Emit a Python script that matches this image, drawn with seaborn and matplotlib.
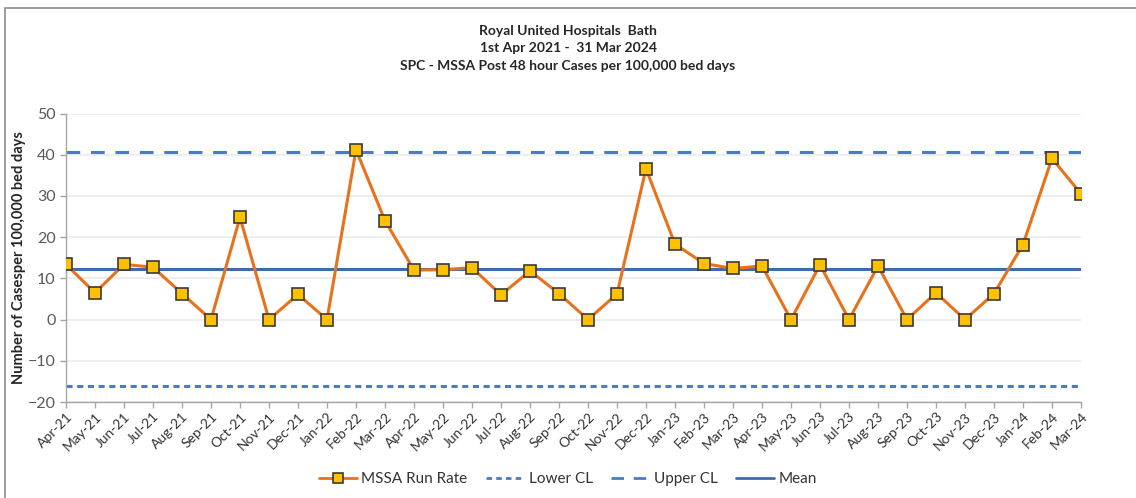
import matplotlib
matplotlib.use("Agg")
import matplotlib.pyplot as plt
import numpy as np
import pandas as pd
import seaborn as sns
from matplotlib.lines import Line2D
from matplotlib.patches import Rectangle

months = [
    "Apr-21", "May-21", "Jun-21", "Jul-21", "Aug-21", "Sep-21", "Oct-21", "Nov-21",
    "Dec-21", "Jan-22", "Feb-22", "Mar-22", "Apr-22", "May-22", "Jun-22", "Jul-22",
    "Aug-22", "Sep-22", "Oct-22", "Nov-22", "Dec-22", "Jan-23", "Feb-23", "Mar-23",
    "Apr-23", "May-23", "Jun-23", "Jul-23", "Aug-23", "Sep-23", "Oct-23", "Nov-23",
    "Dec-23", "Jan-24", "Feb-24", "Mar-24",
]
run_rate = [
    13.4, 6.5, 13.4, 12.7, 6.3, 0.0, 24.8, 0.0, 6.1, 0.0, 41.2, 24.0,
    12.0, 12.1, 12.6, 6.0, 11.8, 6.3, 0.0, 6.2, 36.6, 18.3, 13.6, 12.4,
    13.0, 0.0, 13.3, 0.0, 13.0, 0.0, 6.5, 0.0, 6.3, 18.2, 39.1, 30.5,
]
mean_value = 12.2
upper_cl = 40.6
lower_cl = -16.2

df = pd.DataFrame({"month": months, "rate": run_rate})
df["pos"] = np.arange(len(df))

sns.set_theme(style="white")
plt.rcParams["font.family"] = ["Lato", "DejaVu Sans"]

fig = plt.figure(figsize=(11.36, 4.98), dpi=100)
ax = fig.add_axes([66 / 1136, 1 - 402 / 498, (1081 - 66) / 1136, (402 - 113.5) / 498])

ax.axhline(upper_cl, color="#4A7CC4", lw=2.2, ls=(0, (4.5, 3.5)), zorder=2)
ax.axhline(lower_cl, color="#4A7CC4", lw=2.2, ls=(0, (2, 1.5)), zorder=2)
ax.axhline(mean_value, color="#3E6BAE", lw=2.2, zorder=2)
sns.lineplot(data=df, x="pos", y="rate", ax=ax, color="#E8721C", lw=2.2,
             marker="s", markersize=8, markerfacecolor="#FFC000",
             markeredgecolor="#3A3A3A", markeredgewidth=1.2, zorder=3)

ax.set_xlim(0, len(months) - 1)
ax.set_ylim(-20, 50)
ax.set_yticks(range(-20, 51, 10))
ax.yaxis.grid(True, color="#EBEBEB", lw=1.2)
ax.set_axisbelow(True)
ax.set_xticks(df["pos"])
ax.set_xticklabels(months, rotation=45, ha="right", rotation_mode="anchor", fontsize=10, color="#333333")
ax.tick_params(axis="x", length=4, color="#A6A6A6", width=1, bottom=True, pad=2)
ax.tick_params(axis="y", length=4, color="#A6A6A6", width=1, left=True, labelsize=11.5, labelcolor="#595959")
for side in ["top", "right"]:
    ax.spines[side].set_visible(False)
for side in ["left", "bottom"]:
    ax.spines[side].set_color("#A6A6A6")
    ax.spines[side].set_linewidth(1)
ax.set_xlabel("")
ax.set_ylabel("Number of Casesper 100,000 bed days", fontsize=10.5, fontweight="bold", color="#262626", labelpad=1)

fig.text(0.5, 1 - 31 / 498, "Royal United Hospitals  Bath", ha="center", va="center", fontsize=10, fontweight="bold")
fig.text(0.5, 1 - 48 / 498, "1st Apr 2021 -  31 Mar 2024", ha="center", va="center", fontsize=10, fontweight="bold")
fig.text(0.5, 1 - 66 / 498, "SPC - MSSA Post 48 hour Cases per 100,000 bed days", ha="center", va="center", fontsize=10, fontweight="bold")

handles = [
    Line2D([], [], color="#E8721C", lw=2, marker="s", markersize=7, markerfacecolor="#FFC000",
           markeredgecolor="#3A3A3A", markeredgewidth=1.2),
    Line2D([], [], color="#4A7CC4", lw=2, ls=(0, (2, 1.5))),
    Line2D([], [], color="#4A7CC4", lw=2, ls=(0, (4.5, 3.5))),
    Line2D([], [], color="#3E6BAE", lw=2),
]
labels = ["MSSA Run Rate", "Lower CL", "Upper CL", "Mean"]
fig.legend(handles, labels, loc="center", bbox_to_anchor=(0.5, 1 - 479 / 498), ncol=4,
           frameon=False, fontsize=11, handlelength=2.5, columnspacing=1.2, handletextpad=0.3,
           labelcolor="#333333")

fig.patches.append(Rectangle((5 / 1136, -0.1), 1.2, 1 - 8 / 498 + 0.1, transform=fig.transFigure,
                             fill=False, edgecolor="#8C8C8C", lw=1.2))

fig.savefig("out.png", dpi=100)
